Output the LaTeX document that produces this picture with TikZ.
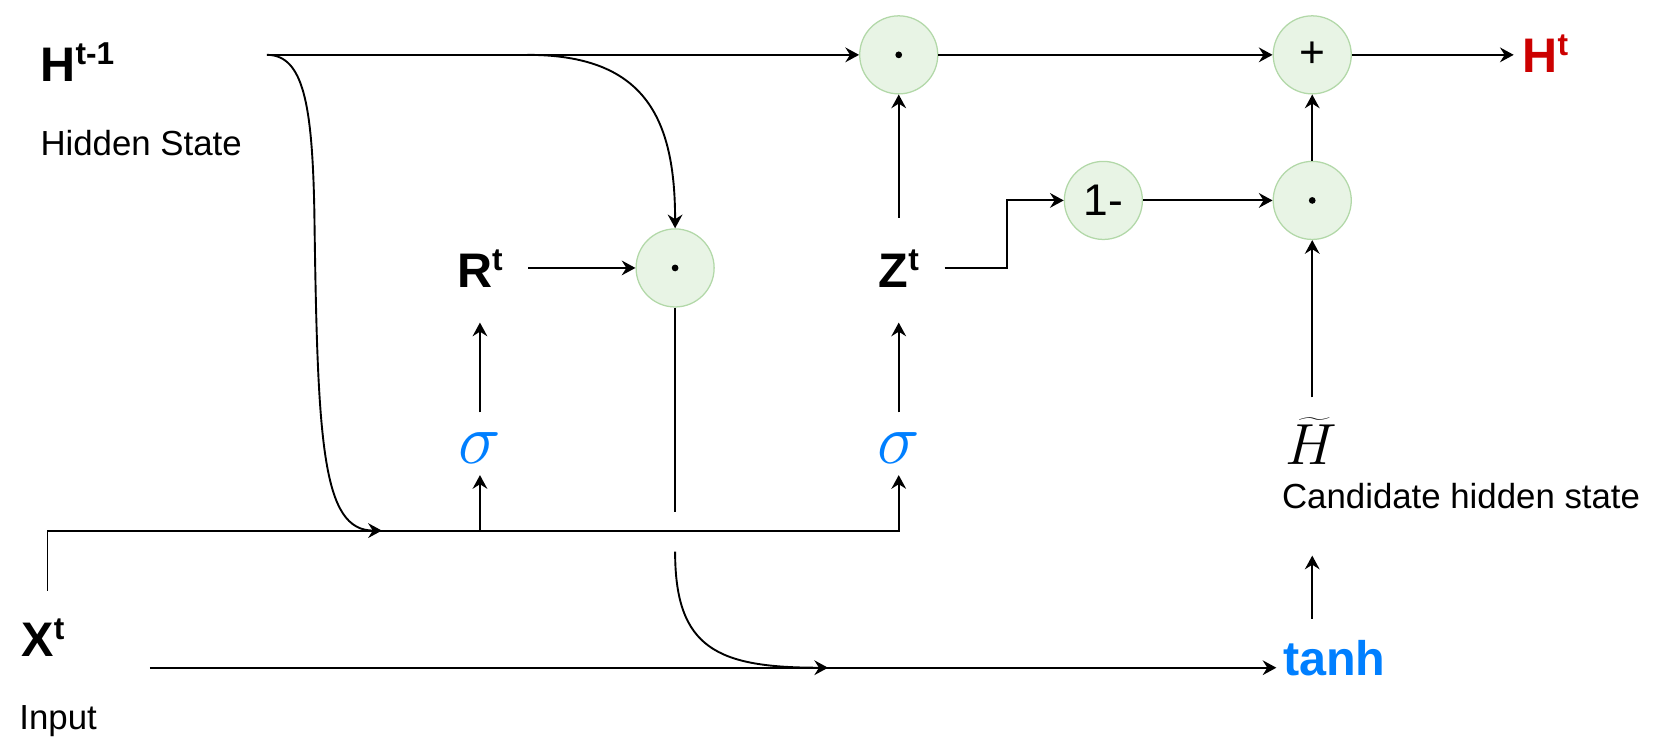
\RequirePackage{fix-cm}
\documentclass[tikz,border=0pt]{standalone}
\usepackage{fontspec}
\setmainfont{Liberation Sans}
\usetikzlibrary{arrows.meta}
\definecolor{opfill}{RGB}{232,244,229}
\definecolor{opdraw}{RGB}{178,216,168}
\definecolor{gblue}{RGB}{0,127,255}
\definecolor{gred}{RGB}{204,0,0}
\newcommand{\supr}[1]{\raisebox{8pt}{\fontsize{15pt}{15pt}\selectfont #1}}
\begin{document}
\begin{tikzpicture}[x=0.5pt,y=-0.5pt,
  op/.style={circle, draw=opdraw, fill=opfill, line width=0.6pt, minimum size=37pt, inner sep=0pt},
  arr/.style={-{Stealth[length=6.5pt,width=7pt,inset=2.2pt]}, line width=0.9pt},
  ln/.style={line width=0.9pt},
  blab/.style={inner sep=0pt, font=\fontsize{23pt}{23pt}\selectfont\bfseries, text height=16.4pt, text depth=0pt},
  lab/.style={inner sep=0pt, font=\fontsize{16.5pt}{16.5pt}\selectfont},
  sig/.style={inner sep=0pt, font=\fontsize{34pt}{34pt}\selectfont, text=gblue, text height=14.6pt, text depth=0pt},
  optext/.style={font=\fontsize{21pt}{21pt}\selectfont}
]
\useasboundingbox (0,0) rectangle (1568,713);

% text labels
\node[blab, anchor=west] (hprev) at (38,61) {H\supr{t-1}};
\node[lab, anchor=base west] (hstate) at (38,147) {Hidden State};
\node[blab] (R) at (455,256) {R\supr{t}};
\node[blab] (Z) at (852,256) {Z\supr{t}};
\node[blab, anchor=west] (X) at (20,606) {X\supr{t}};
\node[lab, anchor=base west] (inp) at (18,692) {Input};
\node[blab, anchor=west, text=gred] (Ht) at (1443,52) {H\supr{t}};
\node[sig] (s1) at (455,425) {$\sigma$};
\node[sig] (s2) at (852,425) {$\sigma$};
\node[blab, anchor=base west, text=gblue] (tanh) at (1216,640) {tanh};
\node[inner sep=0pt, font=\fontsize{27.5pt}{27.5pt}\selectfont, anchor=base] (Hc) at (1243,440) {$\widetilde{H}$};
\node[lab, anchor=base west] (cand) at (1215,482) {Candidate hidden state};

% operation circles
\node[op] (A) at (852,52) {};
\node[op, optext] (B) at (1244,52) {+};
\node[op, optext] (C) at (1046,190) {1-};
\node[op] (D) at (1244,190) {};
\node[op] (E) at (640,254) {};
\fill (A) circle (1.6pt);
\fill (D) circle (1.6pt);
\fill (E) circle (1.6pt);

% helper coordinates
\coordinate (hs) at (253,52);
\coordinate (hb) at (500,52);
\coordinate (xin) at (362,503);
\coordinate (xs) at (45,560);
\coordinate (bus) at (s2.south |- xin);
\coordinate (zk) at (955,254);
\coordinate (j1) at (640,485);
\coordinate (j2) at (640,523);
\coordinate (m2) at (785,633);
\coordinate (xb) at (142,633);

% connectors
\draw[arr] (hs) -- (A);
\draw[arr] (A) -- (B);
\draw[arr, shorten >=4pt] (B) -- (B -| Ht.west);
\draw[arr] (hb) .. controls (610,52) and (640,110) .. (E.north);
\draw[arr] (hs) .. controls (288,52) and (296,100) .. (298,200) .. controls (301,420) and (305,503) .. (xin);
\draw[arr, shorten >=5.2pt] (xs) |- (bus) -- (s2.south);
\draw[arr, shorten >=5.2pt] (s1.south |- xin) -- (s1.south);
\draw[arr, shorten <=9.5pt, shorten >=16.5pt] (s1.north) -- (R.south);
\draw[arr, shorten <=9.5pt, shorten >=16.5pt] (s2.north) -- (Z.south);
\draw[arr, shorten <=12pt] (R.east |- E) -- (E);
\draw[arr, shorten <=16.5pt] (Z.north) -- (A);
\draw[arr, shorten <=12pt] (Z.east |- E) -- (zk) |- (C);
\draw[arr] (C) -- (D);
\draw[arr] (D) -- (B);
\draw[ln] (E) -- (j1);
\draw[arr] (j2) .. controls (640,615) and (680,633) .. (m2);
\draw[arr, shorten >=3pt] (xb) -- (xb -| tanh.west);
\draw[arr, shorten <=10pt, shorten >=22pt] (tanh.north -| D) -- (cand.south -| D);
\draw[arr, shorten <=9.5pt] (Hc.north -| D) -- (D);
\end{tikzpicture}
\end{document}
